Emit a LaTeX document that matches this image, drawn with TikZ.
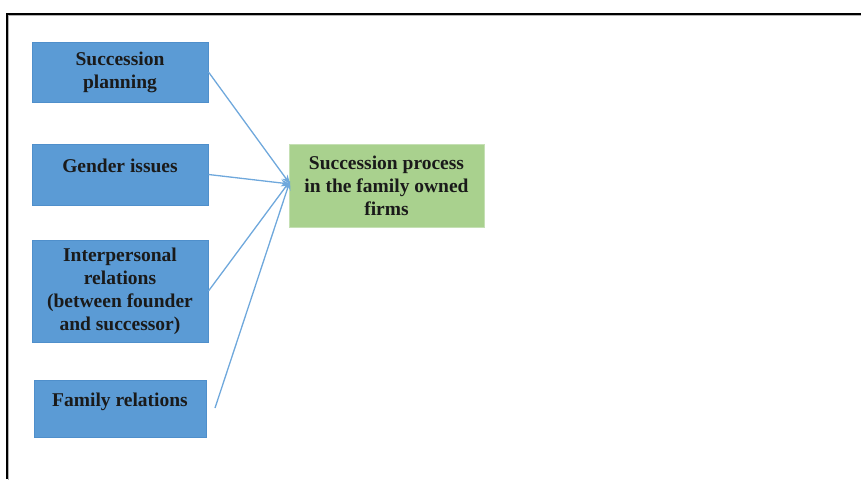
\documentclass[tikz,border=0pt]{standalone}
\usepackage{fontspec}
\setmainfont{Liberation Serif}
\usetikzlibrary{arrows.meta}
\definecolor{boxblue}{HTML}{5B9BD5}
\definecolor{boxblueline}{HTML}{4F8FCB}
\definecolor{boxgreen}{HTML}{A9D18E}
\definecolor{boxgreenline}{HTML}{C5E0B4}
\definecolor{arrowblue}{HTML}{6FA8DC}
\definecolor{txt}{HTML}{1A1A1A}
\begin{document}
\begin{tikzpicture}[x=1pt,y=-1pt,
  bluebox/.style={draw=boxblueline, fill=boxblue, line width=1pt, align=center,
    text=txt, font=\fontsize{19.5}{23}\selectfont\bfseries, inner sep=0pt},
  greenbox/.style={draw=boxgreenline, fill=boxgreen, line width=1pt, align=center,
    text=txt, font=\fontsize{19.5}{23}\selectfont\bfseries, inner sep=0pt,
    minimum width=195pt, minimum height=83pt},
  conn/.style={draw=arrowblue, line width=1.3pt, -{Stealth[length=9pt,width=7pt]}},
  frameline/.style={line width=1.6pt, black}
]
\useasboundingbox (0,0) rectangle (861,479);
% frame
\coordinate (fl) at (7,479);
\coordinate (fc) at (7,14);
\coordinate (fr) at (861,14);
\draw[line width=1.2pt, gray!60] ([shift={(1.5,1.5)}]fl) -- ([shift={(1.5,1.5)}]fc) -- ([shift={(1.5,1.5)}]fr);
\draw[frameline] (fl) -- (fc) -- (fr);
% boxes
\node[bluebox, minimum width=176pt, minimum height=60pt] (sp) at (120,72) {Succession\\planning};
\node[bluebox, minimum width=176pt, minimum height=61pt] (gi) at (120,174.5) {Gender issues\\[-6pt]\mbox{}};
\node[bluebox, minimum width=176pt, minimum height=102pt] (ir) at (120,291) {Interpersonal\\relations\\(between founder\\and successor)};
\node[bluebox, minimum width=172pt, minimum height=57pt] (fr) at (120,408.5) {Family relations\\[-6pt]\mbox{}};
\node[greenbox] (sf) at (386.5,185.5) {Succession process\\in the family owned\\firms};
% connectors
\coordinate (hub) at (290,184);
\coordinate (frs) at (215,408);
\draw[conn] (sp.east) -- (hub);
\draw[conn] (gi.east) -- (hub);
\draw[conn] (ir.east) -- ([yshift=3pt]hub);
\draw[conn] (frs) -- ([yshift=3pt]hub);
\end{tikzpicture}
\end{document}
